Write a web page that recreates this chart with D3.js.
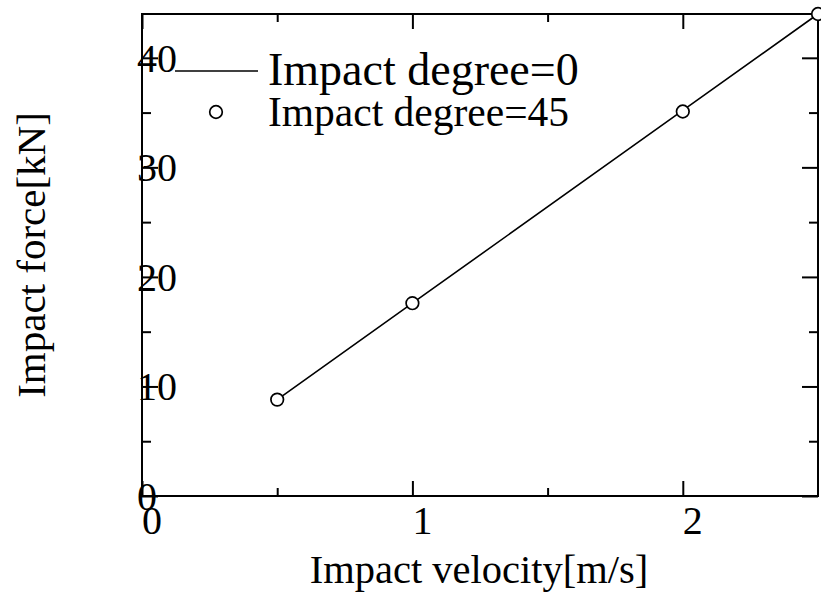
<!DOCTYPE html>
<html><head><meta charset="utf-8">
<script src="https://cdn.jsdelivr.net/npm/d3@7/dist/d3.min.js"></script>
<style>
html,body{margin:0;padding:0;background:#fff;}
svg{display:block;}
text{font-family:"Liberation Serif","Times New Roman",serif;fill:#000;}
</style></head>
<body>
<script>
// Data
const velocities = [0.5, 1, 2, 2.5];
const force0 = [8.8, 17.6, 35.2, 44.0];
const force45 = [8.8, 17.6, 35.1, 44.0];
const xMajorTicks = [0, 1, 2];
const xMinorTicks = [0.5, 1.5];
const yMajorTicks = [0, 10, 20, 30, 40];
const yMinorTicks = [5, 15, 25, 35];
const seriesNames = ["Impact degree=0", "Impact degree=45"];
const xTitle = "Impact velocity[m/s]";
const yTitle = "Impact force[kN]";

const W = 821, H = 593;
const L = 142, R = 818, T = 14, B = 496;
const svg = d3.select("body").append("svg").attr("width", W).attr("height", H);

const x = d3.scaleLinear().domain([0, 2.5]).range([L, R]);
const y = d3.scaleLinear().domain([0, 44]).range([B, T]);

function styleAxis(g){
  g.select(".domain").remove();
  g.selectAll("line").attr("stroke","#000").attr("stroke-width",2);
  g.selectAll("text").remove();
}
// ticks (inward)
svg.append("g").attr("transform",`translate(0,${B})`).call(d3.axisBottom(x).tickValues(xMajorTicks).tickSize(-15)).call(styleAxis);
svg.append("g").attr("transform",`translate(0,${B})`).call(d3.axisBottom(x).tickValues(xMinorTicks).tickSize(-8)).call(styleAxis);
svg.append("g").attr("transform",`translate(0,${T})`).call(d3.axisTop(x).tickValues(xMajorTicks).tickSize(-15)).call(styleAxis);
svg.append("g").attr("transform",`translate(0,${T})`).call(d3.axisTop(x).tickValues(xMinorTicks).tickSize(-8)).call(styleAxis);
svg.append("g").attr("transform",`translate(${L},0)`).call(d3.axisLeft(y).tickValues(yMajorTicks).tickSize(-16)).call(styleAxis);
svg.append("g").attr("transform",`translate(${L},0)`).call(d3.axisLeft(y).tickValues(yMinorTicks).tickSize(-9)).call(styleAxis);
svg.append("g").attr("transform",`translate(${R},0)`).call(d3.axisRight(y).tickValues(yMajorTicks).tickSize(-16)).call(styleAxis);
svg.append("g").attr("transform",`translate(${R},0)`).call(d3.axisRight(y).tickValues(yMinorTicks).tickSize(-9)).call(styleAxis);

// frame
svg.append("rect").attr("x",L).attr("y",T).attr("width",R-L).attr("height",B-T)
  .attr("fill","none").attr("stroke","#000").attr("stroke-width",2);

// tick labels
svg.selectAll(".xl").data(xMajorTicks).enter().append("text")
  .attr("x", d => x(d) + 10).attr("y", B + 38).attr("text-anchor","middle")
  .attr("font-size", 40).text(d => d);
svg.selectAll(".yl").data(yMajorTicks).enter().append("text")
  .attr("x", L - 5).attr("y", d => y(d) + 14).attr("text-anchor","start")
  .attr("font-size", 40).text(d => d);

// titles
svg.append("text").attr("x", 479).attr("y", 583).attr("text-anchor","middle")
  .attr("font-size", 40.5).text(xTitle);
svg.append("text").attr("transform","translate(45,255) rotate(-90)").attr("text-anchor","middle")
  .attr("font-size", 41).text(yTitle);

// data line
const pts = velocities.map((v,i)=>[v, force0[i]]);
svg.append("path").datum(pts)
  .attr("d", d3.line().x(d=>x(d[0])).y(d=>y(d[1])))
  .attr("fill","none").attr("stroke","#000").attr("stroke-width",1.6);
// data circles
svg.selectAll(".pt").data(velocities.map((v,i)=>[v, force45[i]])).enter().append("circle")
  .attr("cx", d=>x(d[0])).attr("cy", d=>y(d[1])).attr("r", 6.3)
  .attr("fill","#fff").attr("stroke","#000").attr("stroke-width",1.7);

// legend
svg.append("line").attr("x1",175).attr("x2",258).attr("y1",71).attr("y2",71)
  .attr("stroke","#000").attr("stroke-width",1.6);
svg.append("text").attr("x",268).attr("y",85).attr("font-size",46).text(seriesNames[0]);
svg.append("circle").attr("cx",216).attr("cy",112).attr("r",6.3)
  .attr("fill","#fff").attr("stroke","#000").attr("stroke-width",1.7);
svg.append("text").attr("x",268).attr("y",126).attr("font-size",41.5).text(seriesNames[1]);
</script>
</body></html>
